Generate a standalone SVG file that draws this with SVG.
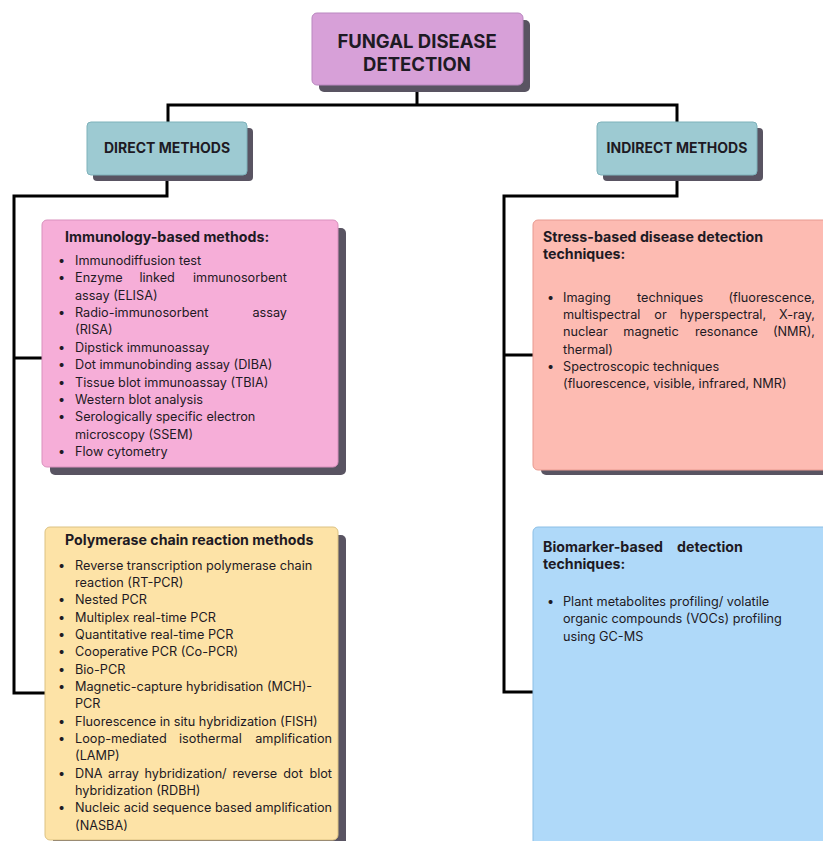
<svg xmlns="http://www.w3.org/2000/svg" width="823" height="841" viewBox="0 0 823 841">
<style>
.sh{fill:#595462}
.t{font-family:Inter,"Liberation Sans",Arial,sans-serif;fill:#1e1a24}
.hd{font-size:18.5px;font-weight:700;text-anchor:middle}
.sub{font-size:14px;font-weight:700;text-anchor:middle}
.bt{font-size:14.2px;font-weight:700}
.it{font-size:12.7px}
.m{text-anchor:middle}
.e{text-anchor:end}
.con{fill:none;stroke:#000;stroke-width:3;stroke-linejoin:miter}
</style>
<rect width="823" height="841" fill="#fff"/>
<g id="connectors">
<path class="con" d="M417 85 V105 M168 122 V105 H677 V122"/>
<path class="con" d="M167 175 V196 H14 V693 H46 M14 358 H42"/>
<path class="con" d="M677 175 V196 H504 V692 H534 M504 355 H534"/>
</g>
<g id="title">
<rect class="sh" x="319" y="20" width="211" height="72" rx="5"/>
<rect x="312" y="13" width="211" height="72" rx="5" fill="#d7a0d8" stroke="#b987bf" stroke-width="1"/>
<text class="t hd" x="417" y="48">FUNGAL DISEASE</text>
<text class="t hd" x="417" y="71">DETECTION</text>
</g>
<g id="direct">
<rect class="sh" x="93" y="128" width="160" height="53" rx="4"/>
<rect x="87" y="122" width="160" height="53" rx="4" fill="#9dcad2" stroke="#7eb2ba" stroke-width="1"/>
<text class="t sub" x="167" y="153">DIRECT METHODS</text>
</g>
<g id="indirect">
<rect class="sh" x="603" y="128" width="160" height="53" rx="4"/>
<rect x="597" y="122" width="160" height="53" rx="4" fill="#9dcad2" stroke="#7eb2ba" stroke-width="1"/>
<text class="t sub" x="677" y="153">INDIRECT METHODS</text>
</g>
<g id="immunology">
<rect class="sh" x="50" y="228" width="296" height="247" rx="5"/>
<rect x="42" y="220" width="296" height="247" rx="5" fill="#f6aed8" stroke="#d990bd" stroke-width="1"/>
<text class="t bt" x="65" y="242">Immunology-based methods:</text>
<g class="t it">
<text x="58" y="265">•</text><text x="75" y="265">Immunodiffusion test</text>
<text x="58" y="282.4">•</text><text x="75" y="282.4">Enzyme</text><text x="139.4" y="282.4">linked</text><text class="e" x="287" y="282.4">immunosorbent</text>
<text x="75" y="299.7">assay (ELISA)</text>
<text x="58" y="317.1">•</text><text x="75" y="317.1">Radio-immunosorbent</text><text class="e" x="287" y="317.1">assay</text>
<text x="75" y="334.4">(RISA)</text>
<text x="58" y="351.8">•</text><text x="75" y="351.8">Dipstick immunoassay</text>
<text x="58" y="369.1">•</text><text x="75" y="369.1">Dot immunobinding assay (DIBA)</text>
<text x="58" y="386.5">•</text><text x="75" y="386.5">Tissue blot immunoassay (TBIA)</text>
<text x="58" y="403.8">•</text><text x="75" y="403.8">Western blot analysis</text>
<text x="58" y="421.2">•</text><text x="75" y="421.2">Serologically specific electron</text>
<text x="75" y="438.5">microscopy (SSEM)</text>
<text x="58" y="455.9">•</text><text x="75" y="455.9">Flow cytometry</text>
</g>
</g>
<g id="pcr">
<rect class="sh" x="53" y="535" width="293" height="320" rx="5"/>
<rect x="45" y="527" width="293" height="313" rx="5" fill="#fde3a7" stroke="#dcc283" stroke-width="1"/>
<text class="t bt" x="65" y="545">Polymerase chain reaction methods</text>
<g class="t it">
<text x="58" y="569.5">•</text><text x="75" y="569.5">Reverse transcription polymerase chain</text>
<text x="75" y="586.9">reaction (RT-PCR)</text>
<text x="58" y="604.2">•</text><text x="75" y="604.2">Nested PCR</text>
<text x="58" y="621.6">•</text><text x="75" y="621.6">Multiplex real-time PCR</text>
<text x="58" y="638.9">•</text><text x="75" y="638.9">Quantitative real-time PCR</text>
<text x="58" y="656.3">•</text><text x="75" y="656.3">Cooperative PCR (Co-PCR)</text>
<text x="58" y="673.6">•</text><text x="75" y="673.6">Bio-PCR</text>
<text x="58" y="691">•</text><text x="75" y="691">Magnetic-capture hybridisation (MCH)-</text>
<text x="75" y="708.3">PCR</text>
<text x="58" y="725.7">•</text><text x="75" y="725.7">Fluorescence in situ hybridization (FISH)</text>
<text x="58" y="743">•</text><text x="75" y="743">Loop-mediated</text><text x="179" y="743">isothermal</text><text class="e" x="332" y="743">amplification</text>
<text x="75" y="760.4">(LAMP)</text>
<text x="58" y="777.7">•</text><text x="75" y="777.7">DNA</text><text x="108" y="777.7">array</text><text x="144.5" y="777.7">hybridization/</text><text x="232.4" y="777.7">reverse</text><text x="283.3" y="777.7">dot</text><text class="e" x="332" y="777.7">blot</text>
<text x="75" y="795.1">hybridization (RDBH)</text>
<text x="58" y="812.4">•</text><text x="75" y="812.4">Nucleic acid sequence based amplification</text>
<text x="75" y="829.8">(NASBA)</text>
</g>
</g>
<g id="stress">
<rect class="sh" x="541" y="228" width="300" height="247" rx="5"/>
<rect x="533" y="220" width="300" height="250" rx="5" fill="#fdbbb2" stroke="#e89a90" stroke-width="1"/>
<text class="t bt" x="543" y="242">Stress-based disease detection</text>
<text class="t bt" x="543" y="259">techniques:</text>
<g class="t it">
<text x="547" y="301.5">•</text><text x="563" y="301.5">Imaging</text><text x="637" y="301.5">techniques</text><text class="e" x="815" y="301.5">(fluorescence,</text>
<text x="563" y="318.9">multispectral</text><text x="654.3" y="318.9">or</text><text x="679.8" y="318.9">hyperspectral,</text><text class="e" x="815" y="318.9">X-ray,</text>
<text x="563" y="336.2">nuclear</text><text x="623.3" y="336.2">magnetic</text><text x="694.9" y="336.2">resonance</text><text class="e" x="815" y="336.2">(NMR),</text>
<text x="563" y="353.6">thermal)</text>
<text x="547" y="370.9">•</text><text x="563" y="370.9">Spectroscopic techniques</text>
<text x="563" y="388.3">(fluorescence, visible, infrared, NMR)</text>
</g>
</g>
<g id="biomarker">
<rect x="533" y="527" width="300" height="320" rx="5" fill="#afd9f9" stroke="#8cbfe6" stroke-width="1"/>
<text class="t bt" x="543" y="552">Biomarker-based</text><text class="t bt" x="677" y="552">detection</text>
<text class="t bt" x="543" y="569">techniques:</text>
<g class="t it">
<text x="547" y="606">•</text><text x="563" y="606">Plant metabolites profiling/ volatile</text>
<text x="563" y="623.4">organic compounds (VOCs) profiling</text>
<text x="563" y="640.7">using GC-MS</text>
</g>
</g>
</svg>
